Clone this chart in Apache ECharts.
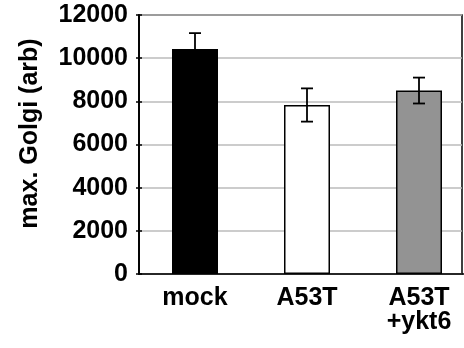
<!DOCTYPE html>
<html><head><meta charset="utf-8">
<script src="https://cdn.jsdelivr.net/npm/echarts@6/dist/echarts.min.js"></script>
<style>html,body{margin:0;padding:0;background:#fff}#c{width:464px;height:348px}</style>
</head><body><div id="c"></div>
<script>
var categories = ['mock', 'A53T', 'A53T\n+ykt6'];
var values = [10430, 7830, 8500];
var errors = [730, 770, 600];
var barColors = ['#000000', '#ffffff', '#939393'];
var yTicks = [0, 2000, 4000, 6000, 8000, 10000, 12000];
var yName = 'max. Golgi (arb)';

var chart = echarts.init(document.getElementById('c'));
var font = 'Liberation Sans, Arial, sans-serif';
chart.setOption({
  animation: false,
  grid: [
    {left: 139, top: 15, width: 336, height: 259, outerBoundsMode: 'none', containLabel: false},
    {left: 139, top: 15, width: 323, height: 259, outerBoundsMode: 'none', containLabel: false, show: true, borderColor: '#000', borderWidth: 1.5, backgroundColor: 'transparent'}
  ],
  xAxis: [
    {type: 'category', gridIndex: 0, data: categories,
     axisLine: {lineStyle: {color: '#000', width: 1.5}}, axisTick: {show: false},
     axisLabel: {color: '#000', fontFamily: font, fontWeight: 'bold', fontSize: 25, lineHeight: 24, margin: 12}},
    {type: 'value', gridIndex: 1, show: false, min: 0, max: 1}
  ],
  yAxis: [
    {type: 'value', gridIndex: 0, min: yTicks[0], max: yTicks[yTicks.length-1], interval: 2000,
     name: yName, nameLocation: 'middle', nameGap: 96,
     nameTextStyle: {color: '#000', fontFamily: font, fontWeight: 'bold', fontSize: 25, padding: [0,0,0,22]},
     axisLine: {show: true, lineStyle: {color: '#000', width: 1.5}},
     axisTick: {show: true, length: 3, lineStyle: {color: '#000', width: 1.5}},
     splitLine: {show: false},
     axisLabel: {color: '#000', fontFamily: font, fontWeight: 'bold', fontSize: 25, margin: 11,
                 formatter: function (v) { return String(v); }}},
    {type: 'value', gridIndex: 1, position: 'right', min: yTicks[0], max: yTicks[yTicks.length-1], interval: 2000,
     axisLine: {show: true, lineStyle: {color: '#000', width: 1.5}},
     axisTick: {show: true, length: 3, lineStyle: {color: '#000', width: 1.5}},
     axisLabel: {show: false},
     splitLine: {show: true, lineStyle: {color: '#bbbbbb', width: 1.5}}}
  ],
  series: [
    {type: 'bar', xAxisIndex: 0, yAxisIndex: 0, barWidth: 46,
     data: values.map(function (v, i) { return {value: v, itemStyle: {color: barColors[i]}}; }),
     itemStyle: {borderColor: '#000', borderWidth: 1.5}, z: 3},
    {type: 'custom', xAxisIndex: 0, yAxisIndex: 0, z: 4,
     data: values.map(function (v, i) { return [i, v, errors[i]]; }),
     renderItem: function (params, api) {
       var x = api.value(0), v = api.value(1), e = api.value(2);
       var top = api.coord([x, v + e]);
       var bot = api.coord([x, v - e]);
       var hw = 6;
       var st = {stroke: '#000', lineWidth: 1.8};
       return {type: 'group', children: [
         {type: 'line', shape: {x1: top[0], y1: top[1], x2: bot[0], y2: bot[1]}, style: st},
         {type: 'line', shape: {x1: top[0]-hw, y1: top[1], x2: top[0]+hw, y2: top[1]}, style: st},
         {type: 'line', shape: {x1: bot[0]-hw, y1: bot[1], x2: bot[0]+hw, y2: bot[1]}, style: st}
       ]};
     }}
  ]
});
</script></body></html>
